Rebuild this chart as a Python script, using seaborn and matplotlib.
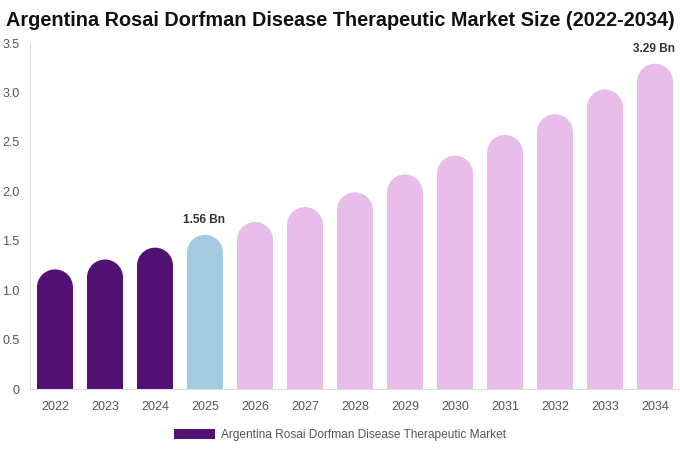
import matplotlib
matplotlib.use("Agg")
import matplotlib.pyplot as plt
import seaborn as sns
import pandas as pd
from matplotlib.patches import Ellipse, Patch

years = ["2022", "2023", "2024", "2025", "2026", "2027", "2028",
         "2029", "2030", "2031", "2032", "2033", "2034"]
values = [1.21, 1.31, 1.43, 1.56, 1.69, 1.84, 1.99, 2.17, 2.36, 2.57, 2.78, 3.03, 3.29]
labels = {"2025": "1.56 Bn", "2034": "3.29 Bn"}
series_name = "Argentina Rosai Dorfman Disease Therapeutic Market"
yticks = [0, 0.5, 1.0, 1.5, 2.0, 2.5, 3.0, 3.5]
ytick_labels = ["0", "0.5", "1.0", "1.5", "2.0", "2.5", "3.0", "3.5"]

dark = "#521073"
blue = "#a3cadf"
pink = "#e8bde9"
colors = [dark if int(y) < 2025 else (blue if y == "2025" else pink) for y in years]

sns.set_theme(style="white")
plt.rcParams["font.family"] = ["Liberation Sans", "DejaVu Sans"]

df = pd.DataFrame({"year": years, "value": values})

fig = plt.figure(figsize=(6.8, 4.5), dpi=100)
ax = fig.add_axes([30/680, 1 - 389/450, 650/680, 346/450])
sns.barplot(data=df, x="year", y="value", hue="year", palette=colors,
            legend=False, width=0.72, ax=ax, saturation=1)
ax.set_xlim(-0.5, 12.5)
ax.set_ylim(0, 3.5)

# rounded tops
fig.canvas.draw()
px_per_x = ax.transData.transform((1, 0))[0] - ax.transData.transform((0, 0))[0]
px_per_y = ax.transData.transform((0, 1))[1] - ax.transData.transform((0, 0))[1]
for p in list(ax.patches):
    x0, w, h = p.get_x(), p.get_width(), p.get_height()
    r_px = w * px_per_x / 2
    ry = r_px / px_per_y
    p.set_height(h - ry)
    p.set_linewidth(0)
    e = Ellipse((x0 + w / 2, h - ry), w, 2 * ry, facecolor=p.get_facecolor(),
                edgecolor="none")
    ax.add_patch(e)

for i, y in enumerate(years):
    if y in labels:
        ax.annotate(labels[y], (i, values[i]), xytext=(-1, 6), textcoords="offset points",
                    ha="center", va="bottom", fontsize=8.6, fontweight="bold", color="#333333")

ax.set_yticks(yticks)
ax.set_yticklabels(ytick_labels)
ax.set_xlabel("")
ax.set_ylabel("")
ax.tick_params(axis="both", length=0, labelsize=9, labelcolor="#555555")
ax.tick_params(axis="y", pad=7.5)
ax.tick_params(axis="x", pad=9)
for s in ["top", "right"]:
    ax.spines[s].set_visible(False)
for s in ["left", "bottom"]:
    ax.spines[s].set_color("#dddddd")
    ax.spines[s].set_linewidth(0.8)
ax.grid(False)

fig.text(0.5, 1 - 21/450, "Argentina Rosai Dorfman Disease Therapeutic Market Size (2022-2034)",
         ha="center", va="center", fontsize=14.3, fontweight="bold", color="#111111")

handle = Patch(facecolor=dark, edgecolor="none", label=series_name)
fig.legend(handles=[handle], loc="center", bbox_to_anchor=(0.5, 1 - 435/450),
           frameon=False, fontsize=8.6, handlelength=3.4, handleheight=0.9,
           labelcolor="#555555", handletextpad=0.5)

fig.savefig("out.png", dpi=100)
